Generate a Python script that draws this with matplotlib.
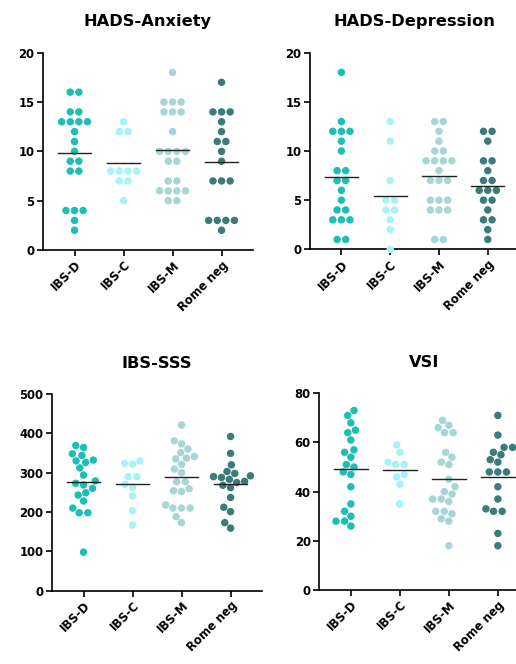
import numpy as np
import matplotlib.pyplot as plt

# =========================================================
# Données
# =========================================================

groupes = ["IBS-D", "IBS-C", "IBS-M", "Rome neg"]
couleurs = ["#1dbfb5", "#a6f4f7", "#a8d6d6", "#3b7b79"]

anx_ibsd = [16, 16, 14, 14, 13, 13, 13, 13, 12, 11, 10, 9, 9, 8, 8, 4, 4, 4, 3, 2]
anx_ibsc = [13, 12, 12, 8, 8, 8, 8, 7, 7, 5]
anx_ibsm = [18, 15, 15, 15, 14, 14, 14, 12, 10, 10, 10, 10, 9, 9, 7, 7, 6, 6, 6, 6, 5, 5]
anx_rome = [17, 14, 14, 14, 13, 12, 11, 11, 10, 9, 7, 7, 7, 3, 3, 3, 3, 2]

dep_ibsd = [18, 13, 12, 12, 12, 11, 10, 8, 8, 7, 7, 6, 5, 4, 4, 3, 3, 3, 1, 1]
dep_ibsc = [13, 11, 7, 5, 5, 4, 4, 3, 2, 0]
dep_ibsm = [13, 13, 12, 11, 10, 10, 9, 9, 9, 9, 8, 7, 7, 7, 5, 5, 5, 4, 4, 4, 1, 1]
dep_rome = [12, 12, 11, 9, 9, 8, 7, 7, 6, 6, 6, 5, 5, 4, 3, 3, 2, 1]

sss_ibsd = [369, 364, 348, 344, 326, 330, 332, 312, 294, 260, 269, 273, 279, 243, 249, 228, 198, 210, 198, 98]
sss_ibsc = [324, 330, 322, 290, 290, 270, 263, 241, 203, 167]
sss_ibsm = [421, 381, 373, 351, 360, 341, 335, 337, 321, 309, 300, 277, 277, 259, 254, 252, 210, 218, 210, 210, 188, 173]
sss_rome = [392, 349, 320, 303, 298, 292, 290, 288, 283, 278, 275, 268, 262, 237, 212, 201, 173, 159]

vsi_ibsd = [71, 73, 68, 64, 65, 61, 57, 56, 54, 50, 51, 47, 48, 42, 35, 30, 32, 26, 28, 28]
vsi_ibsc = [59, 56, 52, 51, 51, 47, 46, 43, 35]
vsi_ibsm = [69, 67, 64, 64, 66, 56, 54, 52, 51, 45, 42, 40, 39, 37, 36, 37, 32, 32, 31, 29, 28, 18]
vsi_rome = [71, 63, 58, 58, 55, 56, 53, 52, 48, 48, 48, 42, 37, 32, 33, 32, 23, 18]

titres = ["HADS-Anxiety", "HADS-Depression", "IBS-SSS", "VSI"]
donnees = [
    [anx_ibsd, anx_ibsc, anx_ibsm, anx_rome],
    [dep_ibsd, dep_ibsc, dep_ibsm, dep_rome],
    [sss_ibsd, sss_ibsc, sss_ibsm, sss_rome],
    [vsi_ibsd, vsi_ibsc, vsi_ibsm, vsi_rome],
]
y_max = [20, 20, 500, 80]
y_pas = [5, 5, 100, 20]

W, H = 516, 664
# positions des axes en pixels : gauche, droite, haut, bas
cadres = [
    (42.7, 253.4, 52.7, 250.0),
    (309.7, 519.5, 52.7, 249.3),
    (51.7, 262.4, 394.0, 590.7),
    (319.0, 529.7, 393.3, 590.0),
]
XLIM = (-0.65, 3.65)


# =========================================================
# Disposition en essaim (style Prism)
# =========================================================

def collision(cand, yy, px_list, py_list, dmin):
    for cx in cand:
        for qx, qy in zip(px_list, py_list):
            if np.hypot(cx - qx, yy - qy) < dmin - 1e-6:
                return True
    return False


def essaim(valeurs, ypx, xpx, pas=8.6, dmin=8.0):
    vals = np.asarray(valeurs, float)
    xs = np.zeros(len(vals))
    px_list, py_list = [], []
    for u in np.unique(vals):
        idx = np.where(vals == u)[0]
        n = len(idx)
        base = (np.arange(n) - (n - 1) / 2) * pas
        yy = u * ypx
        # décalages candidats : 0, puis contact exact avec les points déjà posés
        decalages = [0.0]
        for qx, qy in zip(px_list, py_list):
            dy = abs(yy - qy)
            if dy < dmin:
                dx = np.sqrt(dmin ** 2 - dy ** 2)
                for b in base:
                    decalages += [qx - b - dx, qx - b + dx]
        decalages = sorted(decalages, key=lambda v: (abs(v), v))
        choix = base
        for d in decalages:
            cand = base + d
            if not collision(cand, yy, px_list, py_list, dmin):
                choix = cand
                break
        for i, cx in zip(idx, choix):
            xs[i] = cx / xpx
            px_list.append(cx)
            py_list.append(yy)
    return xs


# =========================================================
# Figure
# =========================================================

plt.rcParams['font.family'] = 'DejaVu Sans'
plt.rcParams['font.weight'] = 'bold'

fig = plt.figure(figsize=(W / 100, H / 100), dpi=100)

for k in range(4):
    g, d, t, b = cadres[k]
    ax = fig.add_axes([g / W, (H - b) / H, (d - g) / W, (b - t) / H])
    xpx = (d - g) / (XLIM[1] - XLIM[0])
    ypx = (b - t) / y_max[k]

    for i, serie in enumerate(donnees[k]):
        dx = essaim(serie, ypx, xpx)
        ax.scatter(i + dx, serie, s=29, color=couleurs[i],
                   edgecolors='none', zorder=3, clip_on=False)
        m = np.mean(serie)
        ax.plot([i - 0.34, i + 0.34], [m, m], color='#222222',
                lw=1.0, zorder=4)

    ax.set_xlim(*XLIM)
    ax.set_ylim(0, y_max[k])
    ax.set_yticks(np.arange(0, y_max[k] + 1, y_pas[k]))
    ax.set_xticks(range(len(groupes)))
    ax.set_xticklabels(groupes, rotation=45, ha='right',
                       rotation_mode='anchor', fontsize=8.4, fontweight='bold')
    for lab in ax.get_yticklabels():
        lab.set_fontsize(8.4)
        lab.set_fontweight('bold')

    ax.spines['top'].set_visible(False)
    ax.spines['right'].set_visible(False)
    ax.spines['left'].set_linewidth(1.2)
    ax.spines['bottom'].set_linewidth(1.2)
    ax.tick_params(axis='both', direction='out', length=4, width=1.2,
                   pad=2, colors='black')
    ax.set_title(titres[k], fontsize=11.7, fontweight='bold', pad=19)

fig.savefig("out.png", dpi=100)
